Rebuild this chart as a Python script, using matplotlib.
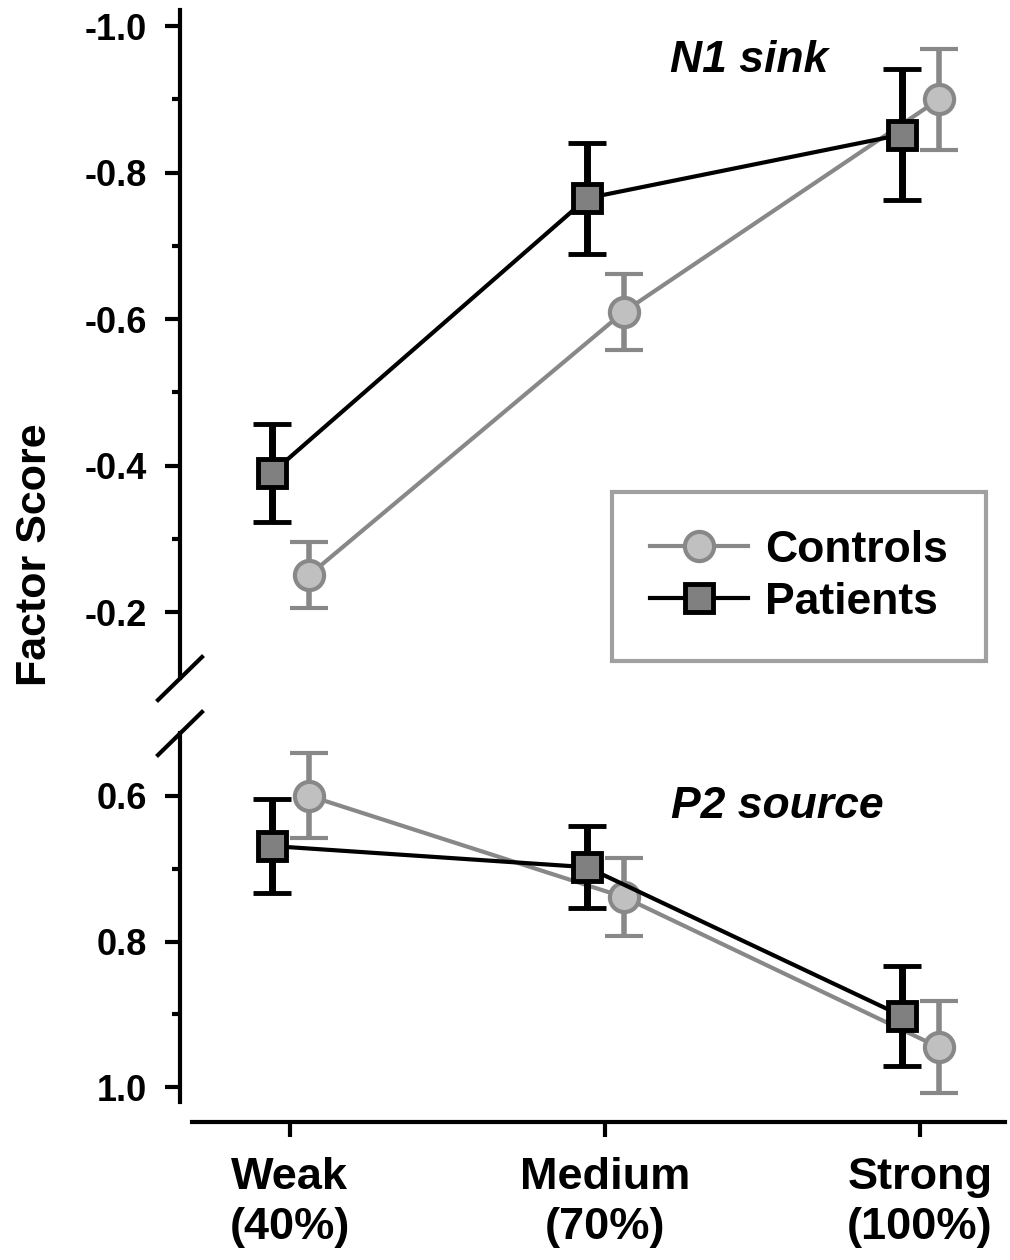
import matplotlib
matplotlib.use("Agg")
import matplotlib.pyplot as plt
from matplotlib.lines import Line2D
import numpy as np

plt.rcParams['font.family'] = ['Liberation Sans', 'DejaVu Sans']
plt.rcParams['font.weight'] = 'bold'

categories = ["Weak\n(40%)", "Medium\n(70%)", "Strong\n(100%)"]
groups = ["Controls", "Patients"]

# N1 sink (top panel)
n1_controls = [-0.25, -0.61, -0.90]
n1_controls_err = [0.045, 0.052, 0.069]
n1_patients = [-0.39, -0.765, -0.852]
n1_patients_err = [0.067, 0.076, 0.090]

# P2 source (bottom panel)
p2_controls = [0.60, 0.739, 0.945]
p2_controls_err = [0.058, 0.054, 0.063]
p2_patients = [0.669, 0.698, 0.902]
p2_patients_err = [0.064, 0.056, 0.068]

top_ticks = [-1.0, -0.8, -0.6, -0.4, -0.2]
bot_ticks = [0.6, 0.8, 1.0]

W, H = 1010, 1260
fig = plt.figure(figsize=(W / 100, H / 100), dpi=100)

left = 180 / W
width = (1005 - 180) / W
ax_top = fig.add_axes([left, 1 - 678 / H, width, (678 - 10) / H])
ax_bot = fig.add_axes([left, 1 - 1102 / H, width, (1102 - 733) / H])

x = np.arange(len(categories))
off_c = 0.06
off_p = -0.057

ctrl_line = dict(color='#888888', lw=3, marker='o', ms=21, mfc='#c0c0c0',
                 mec='#888888', mew=3)
pat_line = dict(color='black', lw=3, marker='s', ms=20, mfc='#808080',
                mec='black', mew=3.5)
ctrl_style = dict(ctrl_line, elinewidth=4, capsize=13.5, capthick=4,
                  ecolor='#888888', zorder=3)
pat_style = dict(pat_line, elinewidth=5, capsize=13.5, capthick=4.5,
                 ecolor='black', zorder=4)

for ax, c, ce, p, pe in [(ax_top, n1_controls, n1_controls_err, n1_patients, n1_patients_err),
                         (ax_bot, p2_controls, p2_controls_err, p2_patients, p2_patients_err)]:
    ax.errorbar(x + off_c, c, yerr=ce, **ctrl_style)
    ax.errorbar(x + off_p, p, yerr=pe, **pat_style)
    ax.set_xlim(-0.349, 2.27)
    for s in ['top', 'right']:
        ax.spines[s].set_visible(False)
    ax.spines['left'].set_linewidth(3)
    ax.tick_params(axis='y', which='major', length=11, width=3, pad=13, labelsize=26)
    ax.tick_params(axis='y', which='minor', length=6, width=3)
    ax.patch.set_alpha(0)

ax_top.set_ylim(-0.11, -1.022)
ax_top.set_yticks(top_ticks)
ax_top.set_yticks([-0.9, -0.7, -0.5, -0.3], minor=True)
ax_top.set_yticklabels([f"{t:.1f}" for t in top_ticks])
ax_top.spines['bottom'].set_visible(False)
ax_top.tick_params(axis='x', which='both', bottom=False, labelbottom=False)

ax_bot.set_ylim(1.02, 0.514)
ax_bot.set_yticks(bot_ticks)
ax_bot.set_yticks([0.7, 0.9], minor=True)
ax_bot.set_yticklabels([f"{t:.1f}" for t in bot_ticks])
ax_bot.spines['bottom'].set_position(('outward', 14.4))
ax_bot.spines['bottom'].set_bounds(-0.31, 2.27)
ax_bot.spines['bottom'].set_linewidth(3)
ax_bot.set_xticks(x)
ax_bot.set_xticklabels(categories, fontsize=32.5, linespacing=1.3)
ax_bot.tick_params(axis='x', length=11, width=3, pad=14)

# break marks
def px2fig(px, py):
    return px / W, 1 - py / H

for (x0, y0, x1, y1) in [(158, 700, 202, 657), (158, 755, 202, 712)]:
    a = px2fig(x0, y0); b = px2fig(x1, y1)
    fig.add_artist(Line2D([a[0], b[0]], [a[1], b[1]], color='black', lw=3,
                          transform=fig.transFigure))

# panel titles
fig.text(749 / W, 1 - 60 / H, "N1 sink", fontsize=32, style='italic', weight='bold',
         ha='center', va='center')
fig.text(777 / W, 1 - 807 / H, "P2 source", fontsize=32, style='italic', weight='bold',
         ha='center', va='center')

fig.text(35 / W, 1 - 555 / H, "Factor Score", fontsize=31, weight='bold', rotation=90,
         ha='center', va='center')

handles = [Line2D([], [], **ctrl_line), Line2D([], [], **pat_line)]
leg = ax_top.legend(handles, groups, loc='upper left',
                    bbox_to_anchor=((612 - 180) / (1005 - 180), 1 - (492 - 10) / 668),
                    fontsize=32, frameon=True, fancybox=False, handlelength=2.2,
                    handletextpad=0.4, borderpad=0.85, labelspacing=0.25, borderaxespad=0)
leg.get_frame().set_edgecolor('#888888')
leg.get_frame().set_linewidth(3)

fig.savefig("out.png", dpi=100)
